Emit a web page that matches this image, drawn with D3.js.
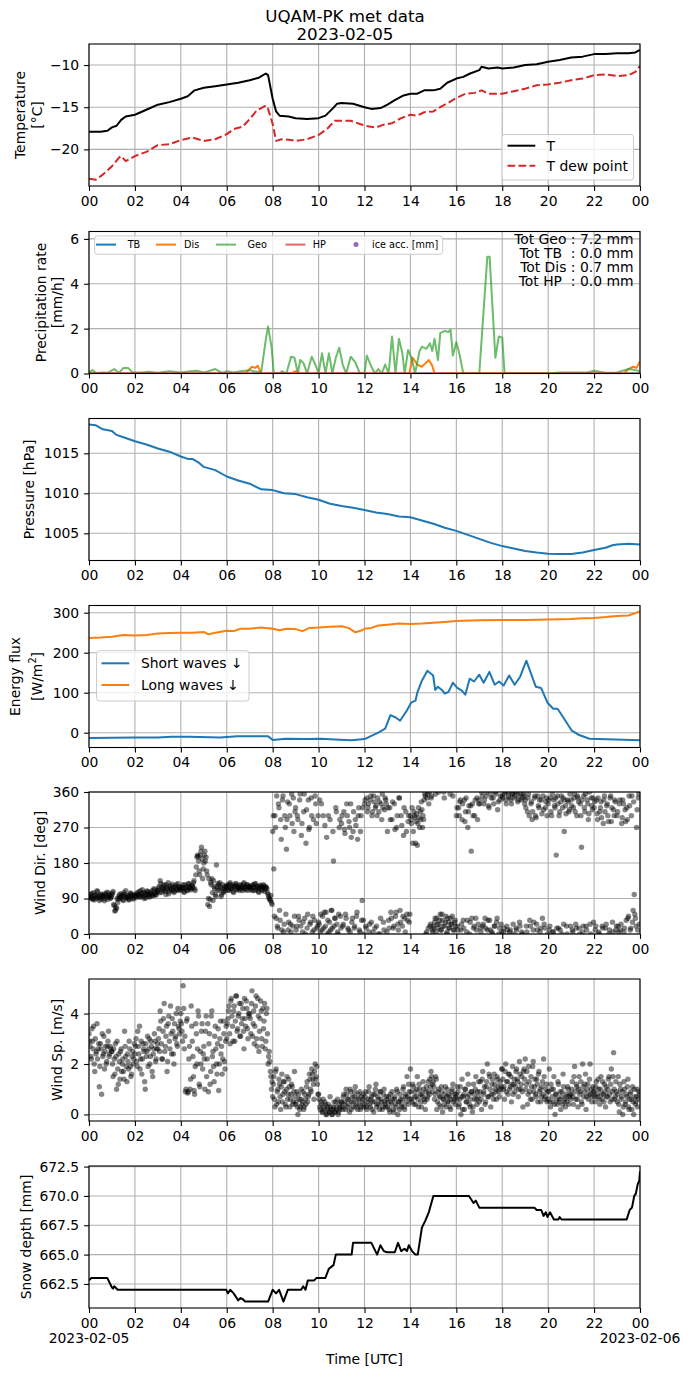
<!DOCTYPE html>
<html>
<head>
<meta charset="utf-8">
<script src="https://cdn.jsdelivr.net/npm/d3@7"></script>
<style>
  body { margin: 0; background: #fff; }
  svg text { font-family: "DejaVu Sans", sans-serif; fill: #000; }
</style>
</head>
<body>
<svg id="chart" width="690" height="1377"></svg>
<script>
// ---- data (hour of day UTC, value) ----
const tempAir = [[0,-17.9],[0.5,-17.9],[0.8,-17.8],[1.0,-17.4],[1.2,-17.2],[1.4,-16.5],[1.6,-16.1],[2.0,-15.9],[2.5,-15.3],[3.0,-14.7],[3.5,-14.4],[4.0,-14.0],[4.3,-13.7],[4.6,-13.0],[5.0,-12.7],[5.5,-12.5],[6.0,-12.3],[6.5,-12.1],[7.0,-11.8],[7.4,-11.5],[7.7,-11.0],[7.8,-11.2],[8.0,-14.0],[8.15,-15.5],[8.3,-16.0],[8.7,-16.1],[9.0,-16.3],[9.5,-16.4],[10.0,-16.3],[10.3,-16.0],[10.6,-15.2],[10.8,-14.6],[11.0,-14.5],[11.5,-14.6],[12.0,-15.0],[12.3,-15.2],[12.7,-15.1],[13.0,-14.7],[13.3,-14.2],[13.7,-13.6],[14.0,-13.4],[14.3,-13.4],[14.6,-13.0],[15.0,-13.0],[15.3,-12.8],[15.6,-12.1],[16.0,-11.6],[16.3,-11.4],[16.6,-11.0],[17.0,-10.6],[17.1,-10.2],[17.4,-10.4],[17.8,-10.3],[18.0,-10.4],[18.5,-10.3],[19.0,-10.0],[19.5,-9.9],[20.0,-9.6],[20.5,-9.4],[21.0,-9.1],[21.5,-9.0],[22.0,-8.7],[22.5,-8.7],[23.0,-8.6],[23.5,-8.6],[23.8,-8.5],[24.0,-8.2]];
const tempDew = [[0,-23.5],[0.3,-23.6],[0.6,-23.0],[1.0,-22.0],[1.3,-21.0],[1.4,-20.8],[1.6,-21.4],[2.0,-20.8],[2.5,-20.3],[3.0,-19.5],[3.5,-19.4],[4.0,-18.9],[4.5,-18.6],[5.0,-19.0],[5.5,-18.8],[6.0,-18.2],[6.3,-17.6],[6.7,-17.3],[7.0,-16.4],[7.3,-15.4],[7.7,-14.8],[7.8,-15.2],[8.0,-17.0],[8.15,-19.0],[8.4,-18.8],[8.8,-18.9],[9.0,-19.0],[9.5,-18.8],[10.0,-18.3],[10.4,-17.5],[10.7,-16.6],[11.0,-16.6],[11.4,-16.6],[11.8,-17.0],[12.2,-17.3],[12.5,-17.4],[12.8,-17.1],[13.2,-16.9],[13.6,-16.3],[14.0,-15.9],[14.3,-16.0],[14.6,-15.6],[15.0,-15.5],[15.3,-15.0],[15.7,-14.4],[16.0,-13.9],[16.4,-13.4],[16.8,-13.3],[17.1,-13.0],[17.4,-13.4],[18.0,-13.4],[18.5,-13.1],[19.0,-12.8],[19.5,-12.4],[20.0,-12.3],[20.5,-12.1],[21.0,-11.8],[21.5,-11.6],[22.0,-11.2],[22.5,-11.1],[23.0,-11.3],[23.5,-11.2],[23.8,-10.8],[24.0,-10.1]];

const precipTB = [[0,0],[24,0]];
const precipHP = [[0,0],[24,0]];
const precipDis = [[0,0],[6.8,0],[7.0,0.2],[7.1,0.3],[7.25,0.25],[7.35,0.35],[7.5,0],[8.8,0],[9.0,0.1],[9.2,0],[13.95,0],[14.1,0.7],[14.3,0.4],[14.5,0.3],[14.65,0.45],[14.8,0.6],[14.95,0.35],[15.05,0],[23.3,0],[23.5,0.2],[23.7,0.3],[23.85,0.25],[24.0,0.55]];
const precipGeo = [[0,0.05],[0.15,0.15],[0.3,0.02],[0.6,0.05],[0.8,0.03],[1.1,0.2],[1.3,0.02],[1.5,0.25],[1.7,0.25],[1.9,0.05],[2.3,0.05],[2.6,0.08],[3.0,0.03],[3.5,0.1],[4.0,0.05],[4.4,0.1],[4.7,0.12],[5.0,0.05],[5.2,0.1],[5.5,0.2],[5.8,0.03],[6.0,0.1],[6.3,0.05],[6.6,0.1],[7.0,0.15],[7.2,0.1],[7.5,0.05],[7.7,1.5],[7.8,2.1],[7.95,1.2],[8.05,0],[8.3,0],[8.4,0.1],[8.6,0],[8.8,0.75],[8.95,0.7],[9.1,0],[9.2,0.6],[9.35,0.45],[9.5,0],[9.7,0.75],[9.9,0.3],[10.0,0],[10.15,0.9],[10.3,0],[10.45,0.9],[10.6,0],[10.75,0.7],[10.9,1.15],[11.05,0.4],[11.2,0],[11.4,0.75],[11.6,0.5],[11.8,0],[12.0,0],[12.1,0.8],[12.3,0.3],[12.45,0],[12.6,0.2],[12.75,0],[12.9,0.4],[13.05,0],[13.2,1.65],[13.35,0],[13.5,1.55],[13.65,0.9],[13.75,0],[13.9,1.05],[14.05,0.7],[14.2,0],[14.4,1.0],[14.5,1.2],[14.7,1.1],[14.85,1.35],[14.95,1.0],[15.05,1.55],[15.2,0.6],[15.3,1.8],[15.5,1.9],[15.65,1.85],[15.75,1.95],[15.85,0.8],[16.0,1.4],[16.15,0.8],[16.3,0],[17.0,0],[17.2,3.0],[17.35,5.2],[17.45,5.2],[17.6,2.5],[17.7,0.7],[17.85,1.65],[18.0,1.6],[18.1,0],[20.0,0],[20.5,0.05],[21.0,0.05],[21.7,0.05],[22.0,0.12],[22.5,0.03],[23.0,0.05],[23.5,0.2],[23.8,0.15],[24.0,0.1]];
const precipTotals = ['Tot Geo : 7.2 mm', 'Tot TB  : 0.0 mm', 'Tot Dis : 0.7 mm', 'Tot HP  : 0.0 mm'];

const pressure = [[0,1018.6],[0.3,1018.5],[0.6,1018.0],[1.0,1017.8],[1.2,1017.3],[1.5,1017.0],[2.0,1016.5],[2.5,1016.1],[3.0,1015.6],[3.5,1015.2],[4.0,1014.6],[4.3,1014.3],[4.5,1014.3],[4.8,1013.8],[5.0,1013.3],[5.5,1012.9],[6.0,1012.1],[6.5,1011.6],[7.0,1011.2],[7.5,1010.5],[8.0,1010.4],[8.5,1010.0],[9.0,1009.9],[9.5,1009.5],[10.0,1009.2],[10.5,1008.7],[11.0,1008.4],[11.5,1008.2],[12.0,1007.9],[12.5,1007.6],[13.0,1007.4],[13.5,1007.1],[14.0,1007.0],[14.5,1006.6],[15.0,1006.2],[15.5,1005.7],[16.0,1005.3],[16.5,1004.8],[17.0,1004.3],[17.5,1003.8],[18.0,1003.4],[18.5,1003.1],[19.0,1002.8],[19.5,1002.6],[20.0,1002.45],[20.5,1002.4],[21.0,1002.4],[21.5,1002.6],[22.0,1002.9],[22.5,1003.2],[22.8,1003.5],[23.0,1003.6],[23.5,1003.7],[24.0,1003.6]];

const shortWave = [[0,-13],[2,-12],[3,-12],[3.6,-10],[4.35,-10],[5.7,-12],[6.46,-9],[7.6,-9],[7.8,-9],[8.0,-18],[8.57,-15],[9.5,-16],[10.1,-15],[10.7,-17],[11.44,-19],[12.0,-16],[12.3,-8],[12.6,0],[12.9,10],[13.13,44],[13.36,38],[13.55,30],[13.84,55],[14.03,75],[14.22,80],[14.3,100],[14.5,130],[14.74,155],[14.99,143],[15.08,107],[15.2,115],[15.37,107],[15.5,98],[15.66,102],[15.85,125],[16.04,112],[16.24,105],[16.39,95],[16.58,135],[16.77,128],[17.0,145],[17.19,125],[17.44,152],[17.67,120],[17.86,128],[18.06,118],[18.3,143],[18.54,120],[18.78,140],[19.05,180],[19.3,140],[19.46,115],[19.69,112],[19.97,75],[20.22,60],[20.41,60],[20.64,40],[21.03,5],[21.32,-5],[21.8,-15],[22.94,-17],[24,-19]];
const longWave = [[0,237],[0.5,238],[1.0,240],[1.5,244],[2.0,243],[2.5,244],[3.0,248],[3.5,249],[4.0,250],[4.5,250],[5.0,252],[5.2,246],[5.5,250],[6.0,255],[6.3,254],[6.6,260],[7.0,260],[7.5,263],[8.0,260],[8.3,256],[8.6,260],[9.0,259],[9.3,254],[9.6,262],[10.0,263],[10.5,265],[11.0,266],[11.3,262],[11.6,251],[11.9,256],[12.0,260],[12.3,262],[12.6,268],[13.0,270],[13.5,273],[14.0,272],[14.5,273],[15.0,275],[15.5,277],[16.0,279],[17.0,281],[18.0,282],[19.0,282],[20.0,283],[21.0,284],[21.5,286],[22.0,287],[22.5,289],[23.0,292],[23.5,293],[24.0,303]];

// wind: one row per hour, samples every 3 minutes (second set offset by 1.5 min)
const windDir = [
  [95,100,92,88,105,98,90,110,96,85,100,93,97,89,102,95,88,104,99,92],
  [100,108,72,60,65,80,95,90,102,98,85,100,110,92,95,88,104,97,90,100],
  [98,92,105,100,95,110,102,96,90,105,100,108,98,94,103,110,97,112,100,106],
  [110,120,135,105,115,125,112,100,118,130,108,115,122,110,105,118,125,112,120,115],
  [112,118,125,105,115,120,110,128,118,112,122,130,115,150,195,197,160,200,220,140],
  [180,210,195,150,90,70,130,140,85,120,100,175,110,125,130,95,115,105,120,110],
  [118,125,110,130,115,120,105,122,128,112,118,125,115,120,110,130,118,112,125,120],
  [120,112,118,125,110,128,115,120,105,122,118,112,125,108,120,115,100,90,85,80],
  [260,165,300,40,20,330,60,290,10,350,25,270,215,335,30,300,5,280,345,45],
  [320,20,290,35,355,250,5,310,40,230,15,340,270,30,300,45,10,350,280,20],
  [30,340,50,10,300,55,20,245,35,5,290,60,15,185,40,320,25,0,270,45],
  [280,20,310,255,40,300,10,270,330,30,260,15,290,45,240,320,5,300,85,35],
  [330,20,345,320,5,340,30,310,350,15,325,300,0,335,40,290,320,10,345,330],
  [260,35,320,55,290,15,330,45,270,25,345,60,300,20,250,40,310,50,285,30],
  [300,280,230,310,295,285,225,320,270,290,315,300,340,350,5,355,330,20,345,10],
  [20,30,355,40,15,25,50,10,35,360,20,45,5,30,15,40,25,350,10,35],
  [300,20,320,335,10,290,35,340,310,5,270,325,30,210,330,15,300,40,345,25],
  [340,15,360,20,330,40,350,10,325,35,355,5,345,20,360,30,315,0,340,25],
  [350,5,355,340,20,360,345,10,330,355,0,350,15,360,340,30,355,5,345,350],
  [340,20,310,355,35,330,290,10,345,300,25,350,320,5,340,40,315,15,335,300],
  [330,10,345,300,5,340,320,200,350,15,310,335,0,345,260,325,20,340,310,355],
  [340,10,320,355,25,300,345,15,330,220,5,350,310,20,340,290,360,0,325,345],
  [320,10,340,290,5,310,335,20,280,350,15,325,300,0,345,285,30,315,340,10],
  [300,20,330,10,280,340,5,315,35,290,45,325,15,350,60,100,40,270,10,355]
];
const windDirB = [
  [92,97,103,90,86,99,94,107,91,98,88,101,95,84,99,106,93,97,90,96],
  [104,75,58,68,90,88,100,93,96,87,105,94,98,91,86,99,102,95,89,97],
  [95,101,97,107,93,99,112,104,96,91,109,101,95,106,100,98,115,103,99,110],
  [116,105,128,118,110,122,108,125,114,102,120,112,126,117,108,121,113,128,110,118],
  [120,114,108,125,117,111,127,119,115,124,118,135,110,170,200,185,150,210,190,165],
  [200,185,160,75,140,88,125,105,135,115,95,120,128,112,118,100,125,108,115,122],
  [121,112,127,115,124,108,119,126,113,121,116,110,123,118,127,114,120,125,111,119],
  [117,123,110,119,126,113,121,108,116,124,111,119,122,114,118,105,95,88,98,75],
  [300,45,270,350,15,320,35,240,340,5,300,50,290,10,330,25,355,20,260,310],
  [10,300,45,340,20,280,30,355,0,315,50,265,25,345,5,290,35,330,15,300],
  [25,5,330,45,15,275,55,0,300,30,10,60,260,20,40,310,5,50,290,15],
  [300,25,265,50,330,15,285,5,245,40,310,20,275,55,300,10,260,35,320,0],
  [340,15,310,330,25,350,300,5,335,320,20,345,310,0,330,355,30,315,340,5],
  [320,15,290,40,335,20,265,55,300,10,345,30,275,45,320,5,260,35,300,50],
  [290,320,260,300,230,305,280,295,310,335,270,290,355,0,345,15,360,25,350,5],
  [15,40,5,25,360,35,10,50,20,345,30,0,40,15,355,25,45,10,30,20],
  [320,10,300,340,25,330,15,285,345,35,310,0,325,40,300,20,340,10,290,330],
  [330,5,350,25,340,15,360,35,320,10,345,0,330,20,355,40,335,15,350,5],
  [345,15,360,330,10,350,5,340,355,25,345,360,10,335,350,20,340,0,355,330],
  [320,5,345,300,20,335,310,30,350,295,10,325,340,15,305,350,25,320,345,0],
  [340,20,310,355,5,325,345,15,330,300,10,350,320,25,340,305,0,335,315,20],
  [325,5,345,310,15,350,335,0,300,340,20,320,355,10,330,305,25,345,315,30],
  [335,20,305,345,0,320,295,15,340,310,25,330,285,10,350,320,5,300,335,20],
  [310,5,340,25,295,330,15,285,320,40,350,10,300,30,335,50,20,315,345,25]
];
const windSpeed = [
  [3.2,2.7,2.2,2.9,3.5,1.7,2.4,3.6,2.6,1.1,2.8,0.8,2.3,3.1,2.5,2.0,2.7,3.3,2.4,2.6],
  [2.5,1.5,2.2,2.8,1.0,1.8,2.4,1.4,2.6,2.0,1.7,3.3,2.3,1.3,2.1,2.9,1.9,1.6,2.5,2.2],
  [2.4,3.0,1.9,2.7,3.5,2.2,1.6,2.8,2.5,1.0,2.3,3.1,2.6,2.0,2.9,1.7,2.4,3.2,2.1,2.6],
  [2.6,3.4,4.1,2.8,2.2,3.8,2.5,3.1,1.7,3.6,2.9,4.3,2.4,3.3,2.0,3.0,4.0,2.7,3.5,3.2],
  [4.0,3.3,5.1,2.6,0.9,3.7,0.85,2.2,1.0,4.3,2.9,1.5,0.8,3.6,2.0,4.1,1.2,2.5,3.3,1.8],
  [2.7,1.0,3.9,2.2,0.9,3.2,1.7,4.1,2.5,1.3,3.5,2.0,2.8,0.95,3.0,2.4,1.6,3.7,2.1,2.9],
  [3.0,3.8,4.3,2.8,4.6,3.5,4.1,2.9,4.7,3.3,3.9,4.4,3.1,3.6,4.2,2.6,3.8,4.5,3.4,4.0],
  [4.0,3.2,4.9,3.6,2.8,4.3,3.0,4.6,2.5,3.8,4.1,2.7,3.4,4.4,2.9,4.2,2.0,2.5,1.7,1.0],
  [0.7,1.5,0.3,1.8,0.9,0.5,1.2,0.2,1.6,0.8,1.3,0.4,1.0,0.6,1.4,0.3,0.8,1.1,0.5,1.7],
  [0.4,0.9,0.0,0.6,0.3,1.0,0.5,0.2,0.8,0.4,1.3,0.7,1.6,1.0,1.8,1.4,0.6,2.0,1.5,1.2],
  [0.8,0.3,0.5,0.1,0.6,0.2,0.4,0.0,0.3,0.1,0.7,0.2,0.0,0.3,0.1,0.5,0.2,0.0,0.4,0.3],
  [0.5,0.2,0.8,0.4,1.0,0.3,0.6,0.1,0.9,0.5,0.3,0.7,1.1,0.4,0.2,0.6,0.9,0.3,0.5,0.8],
  [0.4,0.9,0.2,0.6,1.1,0.3,0.7,0.5,0.1,0.8,1.2,0.4,0.6,0.2,0.9,0.5,0.3,1.0,0.4,0.7],
  [0.3,0.7,0.1,0.5,0.9,0.2,0.6,0.4,1.0,0.0,0.5,0.8,0.3,0.6,1.1,0.2,0.7,1.5,0.4,0.9],
  [1.8,0.6,1.2,0.4,0.9,0.7,1.5,0.3,1.0,0.5,0.8,1.3,0.6,0.2,1.1,0.7,0.9,1.4,1.7,1.2],
  [1.3,0.6,1.5,0.2,0.9,0.4,0.7,1.1,0.1,0.6,0.8,0.3,1.0,0.5,0.7,0.2,0.9,1.2,0.6,0.4],
  [0.8,1.1,0.3,0.6,0.0,1.4,0.7,0.2,1.0,0.5,1.6,0.8,0.3,0.9,0.1,1.2,0.6,1.5,0.4,0.7],
  [0.5,1.3,0.2,1.7,0.9,0.4,1.1,2.0,0.7,1.5,0.3,1.2,0.8,1.6,1.0,0.6,1.4,0.9,1.3,1.1],
  [1.8,1.0,0.6,2.0,1.3,0.8,1.6,1.1,0.5,1.9,1.2,0.9,1.7,1.4,0.7,2.1,1.0,1.5,0.3,1.8],
  [2.2,1.2,0.4,1.9,0.9,1.5,0.6,2.1,1.1,0.8,1.4,0.5,1.7,1.0,0.7,1.3,2.2,0.6,1.0,0.5],
  [0.6,1.8,0.3,1.0,0.5,1.5,0.0,0.8,0.4,1.2,0.6,0.2,0.9,1.6,0.5,0.3,0.7,1.1,0.4,0.8],
  [0.8,1.3,0.4,1.9,0.6,1.1,0.3,1.5,0.9,0.5,2.0,0.7,1.2,0.2,1.0,0.6,1.4,0.8,0.5,1.1],
  [0.9,0.5,1.3,0.7,1.0,0.4,1.5,0.6,0.8,1.2,0.3,0.7,1.0,1.5,0.5,1.8,0.9,2.45,0.6,1.3],
  [0.5,1.5,0.1,1.0,0.7,0.0,1.3,0.4,0.8,1.1,0.3,0.6,0.9,0.2,0.5,1.0,0.4,0.7,0.3,0.9]
];
const windSpeedB = [
  [2.9,2.3,3.4,2.6,2.0,3.0,2.5,2.2,2.8,1.9,2.6,3.2,2.4,1.8,2.7,2.1,2.9,2.3,2.7,2.5],
  [2.0,2.6,1.6,2.3,2.9,1.2,2.1,2.5,1.7,2.2,1.4,2.7,1.9,2.4,1.8,2.6,1.5,2.3,2.0,2.8],
  [2.7,2.1,3.3,2.4,1.8,2.9,2.2,2.6,1.3,2.8,2.5,1.9,3.0,2.3,2.7,1.5,2.6,2.9,2.2,2.8],
  [3.0,2.5,3.7,2.2,3.3,4.4,2.7,3.5,2.1,3.9,2.6,3.2,3.8,2.4,3.6,3.1,2.8,4.2,3.4,3.7],
  [3.6,2.9,4.2,3.1,1.0,3.8,0.9,2.7,1.4,3.5,2.3,0.95,1.9,3.2,2.6,3.9,1.1,2.0,3.6,2.4],
  [2.2,3.3,1.5,3.6,2.8,1.2,3.9,2.3,1.9,3.1,2.6,1.6,3.4,2.0,3.7,2.7,2.2,3.2,1.8,3.5],
  [3.6,4.1,3.2,4.5,3.9,2.9,4.3,3.7,4.7,3.4,4.0,3.1,4.4,3.8,3.3,4.6,3.5,4.2,3.0,3.9],
  [3.8,4.4,3.1,4.1,3.5,4.7,2.7,3.9,3.3,4.5,3.0,4.2,3.7,2.6,4.0,3.2,2.3,2.1,1.5,1.3],
  [1.2,0.6,1.7,0.4,1.0,1.4,0.7,1.1,0.5,1.3,0.9,0.3,1.5,0.8,1.1,0.6,1.2,0.4,0.9,0.7],
  [0.5,0.3,0.8,0.2,0.6,0.4,0.9,0.3,0.6,1.1,0.5,0.8,1.4,0.9,1.6,1.2,1.7,1.4,1.9,0.8],
  [0.6,0.2,0.4,0.1,0.3,0.5,0.0,0.2,0.4,0.1,0.3,0.0,0.2,0.5,0.1,0.3,0.6,0.1,0.2,0.5],
  [0.3,0.7,0.5,0.2,0.8,0.6,0.4,1.0,0.2,0.7,0.5,0.9,0.3,0.6,0.8,0.4,0.2,0.7,0.6,0.3],
  [0.7,0.3,0.5,0.9,0.4,0.6,0.2,0.8,0.5,1.0,0.3,0.7,0.4,0.9,0.6,0.2,0.8,0.5,0.3,0.6],
  [0.5,0.2,0.8,0.4,0.6,0.1,0.7,0.3,0.9,0.5,0.2,0.6,0.4,1.0,0.3,0.8,0.5,0.7,1.2,0.6],
  [0.9,0.5,1.1,0.7,0.4,1.0,0.6,1.2,0.8,0.3,0.7,1.0,0.5,0.9,0.6,1.3,0.8,1.1,1.5,0.9],
  [1.1,0.8,1.4,0.5,1.0,0.7,0.3,0.9,0.6,0.4,1.1,0.7,0.5,0.8,0.3,0.6,1.0,0.5,0.8,0.7],
  [0.6,0.9,0.4,1.1,0.7,0.2,0.8,1.0,0.5,0.7,1.2,0.4,0.6,0.9,0.3,0.8,1.0,0.6,0.9,1.3],
  [0.9,0.6,1.4,0.8,1.1,0.5,1.3,0.7,1.6,1.0,0.8,1.4,0.6,1.2,0.9,1.5,1.1,0.7,1.0,1.8],
  [1.4,1.1,1.7,0.9,1.3,1.6,1.0,1.5,1.2,0.8,1.4,1.1,1.8,1.3,1.0,1.6,1.2,0.9,1.7,1.4],
  [1.0,1.7,0.8,1.3,0.6,1.1,1.9,0.9,1.4,0.7,1.2,1.6,0.9,0.5,1.1,0.8,1.5,0.7,1.2,0.9],
  [0.9,0.5,1.2,0.7,1.0,0.4,0.8,0.6,1.3,0.5,0.9,0.7,0.4,1.1,0.6,0.8,0.5,1.0,0.7,0.6],
  [1.0,0.7,1.5,0.9,1.2,0.6,1.0,0.8,1.3,0.4,1.1,0.9,1.6,0.7,1.2,0.8,2.0,1.0,0.7,0.9],
  [0.7,1.1,0.8,1.4,0.6,1.0,0.8,1.3,0.5,0.9,1.1,0.7,1.4,0.8,1.2,0.6,1.5,1.0,0.7,0.9],
  [0.8,0.4,1.2,0.6,0.9,0.3,1.0,0.5,0.7,1.4,0.2,0.8,0.6,1.1,0.0,0.7,0.5,1.0,0.6,0.8]
];

const snowDepth = [[0,662.8],[0.1,663.0],[0.8,663.0],[1.0,662.2],[1.05,662.1],[1.1,662.3],[1.25,662.0],[5.98,662.0],[6.05,661.7],[6.15,662.0],[6.3,661.7],[6.5,661.1],[6.6,661.3],[6.7,661.2],[6.8,661.0],[7.8,661.0],[8.0,662.0],[8.15,661.7],[8.28,662.0],[8.47,661.0],[8.66,662.0],[9.24,662.0],[9.33,662.3],[9.43,662.0],[9.53,662.8],[9.81,662.8],[9.9,663.0],[10.29,663.0],[10.45,663.8],[10.58,664.0],[10.65,664.1],[10.75,665.0],[11.44,665.0],[11.5,666.0],[12.3,666.0],[12.55,665.0],[12.69,665.8],[12.84,665.3],[12.98,665.2],[13.32,665.2],[13.46,666.0],[13.6,665.3],[13.74,665.5],[13.85,665.3],[13.93,665.8],[14.07,665.3],[14.22,665.0],[14.32,665.0],[14.5,667.3],[14.65,667.9],[14.8,668.6],[15.0,670.0],[16.55,670.0],[16.75,669.4],[16.85,669.6],[17.0,669.0],[19.4,669.0],[19.5,668.8],[19.7,668.8],[19.8,668.3],[19.9,668.6],[19.97,668.2],[20.08,668.6],[20.25,668.0],[20.45,668.0],[20.5,668.2],[20.58,668.0],[23.42,668.0],[23.55,668.8],[23.65,669.0],[23.75,670.0],[23.82,670.2],[23.9,671.0],[23.97,671.3],[24.0,672.1]];

// ---- layout ----
const svg = d3.select('#chart');
const X0 = 89, X1 = 640, PH = 142;
const tops = [44, 231.5, 418.5, 605.5, 792, 979, 1166];
const FS = 13.9;
const day0 = Date.UTC(2023, 1, 5);
const toDate = h => new Date(day0 + h * 3600e3);
const x = d3.scaleUtc().domain([toDate(0), toDate(24)]).range([X0, X1]);
const xTicks = d3.utcHour.every(2).range(toDate(0), toDate(24.01));

svg.append('text').attr('x', 345).attr('y', 15.5).attr('text-anchor', 'middle')
  .attr('dominant-baseline', 'central').attr('font-size', 16.7).text('UQAM-PK met data');
svg.append('text').attr('x', 345).attr('y', 33.5).attr('text-anchor', 'middle')
  .attr('dominant-baseline', 'central').attr('font-size', 16.7).text('2023-02-05');

function makePanel(i, yDomain, yTicks, yFmt, labels) {
  const top = tops[i];
  const y = d3.scaleLinear().domain(yDomain).range([top + PH, top]);
  const g = svg.append('g');

  g.append('defs').append('clipPath').attr('id', 'clip' + i)
    .append('rect').attr('x', X0).attr('y', top).attr('width', X1 - X0).attr('height', PH);

  // grid
  g.append('g').selectAll('line').data(xTicks).join('line')
    .attr('x1', d => x(d)).attr('x2', d => x(d)).attr('y1', top).attr('y2', top + PH)
    .attr('stroke', '#b0b0b0').attr('stroke-width', 1.1);
  g.append('g').selectAll('line').data(yTicks).join('line')
    .attr('x1', X0).attr('x2', X1).attr('y1', d => y(d)).attr('y2', d => y(d))
    .attr('stroke', '#b0b0b0').attr('stroke-width', 1.1);

  const plot = g.append('g').attr('clip-path', `url(#clip${i})`);

  const xa = g.append('g').attr('transform', `translate(0,${top + PH})`)
    .call(d3.axisBottom(x).tickValues(xTicks).tickFormat(d3.utcFormat('%H'))
      .tickSize(4.9).tickPadding(4.9).tickSizeOuter(0));
  const ya = g.append('g').attr('transform', `translate(${X0},0)`)
    .call(d3.axisLeft(y).tickValues(yTicks).tickFormat(d3.format(yFmt))
      .tickSize(4.9).tickPadding(4.9).tickSizeOuter(0));
  [xa, ya].forEach(a => {
    a.attr('font-size', FS).attr('font-family', '"DejaVu Sans", sans-serif');
    a.select('.domain').remove();
    a.selectAll('.tick line').attr('stroke', '#000').attr('stroke-width', 1.1);
    a.selectAll('.tick text').attr('fill', '#000');
  });

  labels.forEach(([txt, lx]) => {
    const t = g.append('text').attr('transform', `translate(${lx},${top + PH / 2}) rotate(-90)`)
      .attr('text-anchor', 'middle').attr('dominant-baseline', 'central').attr('font-size', FS);
    if (txt === '[W/m2]') {
      t.append('tspan').text('[W/m');
      t.append('tspan').attr('dy', -5).attr('font-size', 9.7).text('2');
      t.append('tspan').attr('dy', 5).text(']');
    } else {
      t.text(txt);
    }
  });

  const frame = () => g.append('rect').attr('x', X0).attr('y', top).attr('width', X1 - X0).attr('height', PH)
    .attr('fill', 'none').attr('stroke', '#000').attr('stroke-width', 1.1);
  return { g, plot, y, top, frame };
}

function drawLine(p, data, color, opts = {}) {
  const line = d3.line().x(d => x(toDate(d[0]))).y(d => p.y(d[1]));
  p.plot.append('path').datum(data).attr('d', line).attr('fill', 'none')
    .attr('stroke', color).attr('stroke-width', 2).attr('stroke-opacity', opts.opacity || 1)
    .attr('stroke-dasharray', opts.dash || null).attr('stroke-linejoin', 'round');
}

function legendBox(g, bx, by, bw, bh) {
  g.append('rect').attr('x', bx).attr('y', by).attr('width', bw).attr('height', bh).attr('rx', 2.8)
    .attr('fill', '#fff').attr('fill-opacity', 0.8).attr('stroke', '#cccccc').attr('stroke-width', 1);
}

// 1. temperature
const p1 = makePanel(0, [-24.35, -7.5], [-20, -15, -10], 'd', [['Temperature', 20], ['[°C]', 37]]);
drawLine(p1, tempAir, '#000');
drawLine(p1, tempDew, '#d62728', { dash: '7.7,3.3' });
p1.frame();
legendBox(p1.g, 502, 134.5, 131.5, 45.5);
[['T', '#000', null, 145.7], ['T dew point', '#d62728', '7.7,3.3', 165.7]].forEach(([lab, c, dash, ly]) => {
  p1.g.append('line').attr('x1', 507.5).attr('x2', 535.3).attr('y1', ly).attr('y2', ly)
    .attr('stroke', c).attr('stroke-width', 2).attr('stroke-dasharray', dash);
  p1.g.append('text').attr('x', 546.5).attr('y', ly).attr('dominant-baseline', 'central')
    .attr('font-size', FS).text(lab);
});

// 2. precipitation
const p2 = makePanel(1, [0, 6.33], [0, 2, 4, 6], 'd', [['Precipitation rate', 40.5], ['[mm/h]', 57.3]]);
drawLine(p2, precipTB, '#1f77b4');
drawLine(p2, precipDis, '#ff7f0e');
drawLine(p2, precipGeo, '#2ca02c', { opacity: 0.7 });
drawLine(p2, precipHP, '#d62728', { opacity: 0.7 });
p2.frame();
legendBox(p2.g, 94.7, 236, 348, 18.3);
const precipLegend = [['TB', '#1f77b4', 1, 96, 127.7], ['Dis', '#ff7f0e', 1, 156, 184], ['Geo', '#2ca02c', 0.7, 216, 247.6], ['HP', '#d62728', 0.7, 285.5, 312.8]];
precipLegend.forEach(([lab, c, op, lx, tx]) => {
  p2.g.append('line').attr('x1', lx).attr('x2', lx + 20).attr('y1', 244.6).attr('y2', 244.6)
    .attr('stroke', c).attr('stroke-opacity', op).attr('stroke-width', 2);
  p2.g.append('text').attr('x', tx).attr('y', 244.6).attr('dominant-baseline', 'central')
    .attr('font-size', 9.7).text(lab);
});
p2.g.append('circle').attr('cx', 356).attr('cy', 244.6).attr('r', 2.5).attr('fill', '#9467bd');
p2.g.append('text').attr('x', 372).attr('y', 244.6).attr('dominant-baseline', 'central')
  .attr('font-size', 9.7).text('ice acc. [mm]');
precipTotals.forEach((t, k) => {
  p2.g.append('text').attr('x', 633.5).attr('y', 239.3 + k * 14).attr('text-anchor', 'end')
    .attr('dominant-baseline', 'central').attr('font-size', FS).style('white-space', 'pre').text(t);
});

// 3. pressure
const p3 = makePanel(2, [1001.6, 1019.35], [1005, 1010, 1015], 'd', [['Pressure [hPa]', 28.6]]);
drawLine(p3, pressure, '#1f77b4');
p3.frame();

// 4. radiation
const p4 = makePanel(3, [-37, 318], [0, 100, 200, 300], 'd', [['Energy flux', 15.4], ['[W/m2]', 36.6]]);
drawLine(p4, shortWave, '#1f77b4');
drawLine(p4, longWave, '#ff7f0e');
p4.frame();
legendBox(p4.g, 96.5, 650.7, 152.5, 50.3);
[['Short waves ↓', '#1f77b4', 663.3], ['Long waves ↓', '#ff7f0e', 685]].forEach(([lab, c, ly]) => {
  p4.g.append('line').attr('x1', 101.5).attr('x2', 129.3).attr('y1', ly).attr('y2', ly)
    .attr('stroke', c).attr('stroke-width', 2);
  p4.g.append('text').attr('x', 141).attr('y', ly).attr('dominant-baseline', 'central')
    .attr('font-size', FS).text(lab);
});

// 5 & 6. wind scatter
function scatter(p, rowsA, rowsB) {
  const pts = [];
  [[rowsA, 0], [rowsB, 0.5]].forEach(([rows, off]) => {
    rows.forEach((vals, h) => vals.forEach((v, k) => pts.push([h + (k + off) / vals.length, v])));
  });
  p.plot.append('g').selectAll('circle').data(pts).join('circle')
    .attr('cx', d => x(toDate(d[0]))).attr('cy', d => p.y(d[1])).attr('r', 2.7)
    .attr('fill', '#000').attr('fill-opacity', 0.48);
}
const p5 = makePanel(4, [0, 360], [0, 90, 180, 270, 360], 'd', [['Wind Dir. [deg]', 39.6]]);
scatter(p5, windDir, windDirB);
p5.frame();

const p6 = makePanel(5, [-0.26, 5.37], [0, 2, 4], 'd', [['Wind Sp. [m/s]', 57.3]]);
scatter(p6, windSpeed, windSpeedB);
p6.frame();

// 7. snow depth
const p7 = makePanel(6, [660.45, 672.55], [662.5, 665, 667.5, 670, 672.5], '.1f', [['Snow depth [mm]', 26.4]]);
drawLine(p7, snowDepth, '#000');
p7.frame();
const bottom = p7.top + PH;
[[0, '2023-02-05'], [24, '2023-02-06']].forEach(([h, lab]) => {
  p7.g.append('text').attr('x', x(toDate(h))).attr('y', bottom + 30).attr('text-anchor', 'middle')
    .attr('dominant-baseline', 'central').attr('font-size', FS).text(lab);
});
p7.g.append('text').attr('x', (X0 + X1) / 2).attr('y', bottom + 51).attr('text-anchor', 'middle')
  .attr('dominant-baseline', 'central').attr('font-size', FS).text('Time [UTC]');
</script>
</body>
</html>
